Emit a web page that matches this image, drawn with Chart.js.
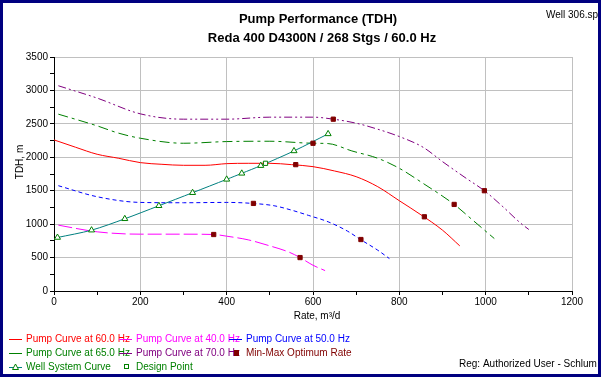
<!DOCTYPE html>
<html>
<head>
<meta charset="utf-8">
<script src="https://cdn.jsdelivr.net/npm/chart.js@4.4.1/dist/chart.umd.min.js"></script>
<style>
  body { margin: 0; background: #fff; }
  canvas { display: block; }
</style>
</head>
<body>
<canvas id="pumpchart" width="601" height="377"></canvas>
<script>
// pump curves (rate m3/d, TDH m)
var rate60 = [0, 50, 100, 150, 200, 250, 300, 350, 400, 450, 500, 550, 600, 650, 700, 750, 800, 850, 900, 940];
var head60 = [2260, 2150, 2045, 1985, 1920, 1895, 1880, 1880, 1905, 1910, 1910, 1890, 1860, 1795, 1710, 1560, 1350, 1140, 910, 675];

var rate40 = [10, 100, 200, 300, 370, 400, 450, 500, 545, 570, 600, 628];
var head40 = [985, 885, 850, 850, 845, 820, 765, 675, 580, 500, 385, 305];

var rate50 = [10, 100, 200, 300, 400, 460, 510, 550, 590, 635, 680, 710, 750, 777];
var head50 = [1575, 1410, 1325, 1320, 1325, 1310, 1275, 1210, 1130, 1035, 895, 770, 610, 485];

var rate65 = [10, 100, 150, 200, 300, 400, 500, 600, 635, 690, 750, 800, 855, 927, 970, 1020];
var head65 = [2645, 2470, 2360, 2285, 2210, 2235, 2240, 2210, 2205, 2095, 1985, 1835, 1610, 1295, 1060, 785];

var rate70 = [10, 100, 200, 300, 400, 500, 600, 647, 700, 750, 800, 855, 900, 955, 997, 1040, 1080, 1100];
var head70 = [3070, 2885, 2650, 2570, 2570, 2600, 2600, 2570, 2510, 2420, 2310, 2150, 1935, 1685, 1500, 1260, 1020, 920];

var rateWell = [8, 87, 164, 243, 321, 400, 435, 479, 556, 635];
var headWell = [800, 910, 1080, 1275, 1470, 1670, 1760, 1875, 2095, 2350];

var rateOpt = [370, 570, 462, 711, 560, 858, 600, 927, 647, 997];
var headOpt = [845, 500, 1310, 770, 1890, 1110, 2210, 1295, 2570, 1500];

var rateDesign = [490];
var headDesign = [1910];

var xTicks = [0, 200, 400, 600, 800, 1000, 1200];
var yTicks = [0, 500, 1000, 1500, 2000, 2500, 3000, 3500];

var legendLabels = [
    "Pump Curve at 60.0 Hz", "Pump Curve at 40.0 Hz", "Pump Curve at 50.0 Hz",
    "Pump Curve at 65.0 Hz", "Pump Curve at 70.0 Hz", "Min-Max Optimum Rate",
    "Well System Curve", "Design Point"
];

function toPoints(xs, ys){
    var pts = [];
    for(var i=0;i<xs.length;i++){
        pts.push({x: xs[i], y: ys[i]});
    }
    return pts;
}

function curve(label, xs, ys, color, dash){
    return {
        label: label,
        data: toPoints(xs, ys),
        showLine: true,
        borderColor: color,
        backgroundColor: color,
        borderWidth: 1,
        borderDash: dash,
        pointRadius: 0,
        cubicInterpolationMode: "monotone",
        legendColor: color
    };
}

var FONT = '"Liberation Sans", Arial, sans-serif';

// legend, titles, frame
var decorations = {
    id: "decorations",
    beforeDraw: function(chart){
        var c = chart.ctx;
        c.save();
        c.fillStyle = "#fff";
        c.fillRect(0, 0, chart.width, chart.height);
        c.restore();
    },
    afterDraw: function(chart){
        var c = chart.ctx;
        var area = chart.chartArea;
        c.save();
        c.fillStyle = "#000";
        c.textAlign = "center";
        c.textBaseline = "middle";
        c.font = "bold 13px " + FONT;
        c.fillText("Pump Performance (TDH)", 318, 19);
        c.fillText("Reda 400 D4300N / 268 Stgs / 60.0 Hz", 322, 38);

        c.font = "10px " + FONT;
        c.fillText("Rate, m\u00b3/d", (area.left + area.right) / 2 + 4, 316);
        c.save();
        c.translate(20, 162);
        c.rotate(-Math.PI / 2);
        c.fillText("TDH, m", 0, 0);
        c.restore();

        c.textAlign = "left";
        c.fillText("Well 306.sp", 546, 15);
        c.fillText("Reg: Authorized User - Schlum", 459, 364);

        // legend: 3 columns
        var ds = chart.data.datasets;
        for(var i=0;i<legendLabels.length;i++){
            var d = null;
            for(var k=0;k<ds.length;k++){
                if(ds[k].label == legendLabels[i]) d = ds[k];
            }
            if(!d) continue;
            var col = i % 3, row = Math.floor(i / 3);
            if(i >= 6){ col = i - 6; row = 2; }
            var tx = 26 + col * 110;
            var ty = 339 + row * 14;
            var sx = tx - 17;
            c.lineWidth = 1;
            if(d.legendSymbol == "rect"){
                c.fillStyle = d.legendColor;
                c.fillRect(sx + 5, ty - 3, 5, 6);
            } else if(d.legendSymbol == "square"){
                c.strokeStyle = d.legendColor;
                c.strokeRect(sx + 5.5, ty - 2.5, 4, 4);
            } else {
                c.strokeStyle = d.legendColor;
                c.beginPath();
                c.moveTo(sx, ty + 0.5);
                c.lineTo(sx + 13, ty + 0.5);
                c.stroke();
                if(d.legendSymbol == "triangle"){
                    c.strokeStyle = "#008000";
                    c.beginPath();
                    c.moveTo(sx + 6.5, ty - 3);
                    c.lineTo(sx + 9.5, ty + 2.5);
                    c.lineTo(sx + 3.5, ty + 2.5);
                    c.closePath();
                    c.fillStyle = "#fff";
                    c.fill();
                    c.stroke();
                }
            }
            c.fillStyle = d.legendText || d.legendColor;
            c.fillText(d.label, tx, ty);
        }

        // window frame
        c.fillStyle = "#000080";
        c.fillRect(0, 0, chart.width, 3);
        c.fillRect(0, chart.height - 3, chart.width, 3);
        c.fillRect(0, 0, 3, chart.height);
        c.fillRect(chart.width - 3, 0, 3, chart.height);
        c.restore();
    }
};

var optimum = {
    label: "Min-Max Optimum Rate",
    data: toPoints(rateOpt, headOpt),
    showLine: false,
    pointStyle: "rect",
    pointRadius: 3,
    pointBackgroundColor: "#800000",
    pointBorderColor: "#800000",
    legendColor: "#800000",
    legendSymbol: "rect"
};
var design = {
    label: "Design Point",
    data: toPoints(rateDesign, headDesign),
    showLine: false,
    pointStyle: "rect",
    pointRadius: 3,
    pointBackgroundColor: "#fff",
    pointBorderColor: "#008000",
    pointBorderWidth: 1,
    legendColor: "#008000",
    legendSymbol: "square"
};
var well = {
    label: "Well System Curve",
    data: toPoints(rateWell, headWell),
    showLine: true,
    borderColor: "#008080",
    borderWidth: 1,
    pointStyle: "triangle",
    pointRadius: 3.5,
    pointBackgroundColor: "#fff",
    pointBorderColor: "#008000",
    pointBorderWidth: 1,
    tension: 0.3,
    legendColor: "#008080",
    legendText: "#008000",
    legendSymbol: "triangle"
};

var ctx_chart = document.getElementById("pumpchart").getContext("2d");
var chart = new Chart(ctx_chart, {
    type: "scatter",
    data: {
        datasets: [
            optimum,
            design,
            well,
            curve("Pump Curve at 60.0 Hz", rate60, head60, "#ff0000", []),
            curve("Pump Curve at 40.0 Hz", rate40, head40, "#ff00ff", [14, 4]),
            curve("Pump Curve at 50.0 Hz", rate50, head50, "#0000ff", [4, 3]),
            curve("Pump Curve at 65.0 Hz", rate65, head65, "#008000", [10, 4, 3, 4]),
            curve("Pump Curve at 70.0 Hz", rate70, head70, "#800080", [8, 3, 2, 3, 2, 3])
        ]
    },
    options: {
        responsive: false,
        animation: false,
        layout: { padding: { left: 0, top: 57, right: 29, bottom: 0 } },
        plugins: {
            legend: { display: false },
            tooltip: { enabled: false }
        },
        scales: {
            x: {
                type: "linear",
                min: 0,
                max: 1200,
                afterFit: function(scale){ scale.height = 86; },
                ticks: {
                    stepSize: 100,
                    autoSkip: false,
                    maxRotation: 0,
                    padding: 1,
                    color: "#000",
                    font: { size: 10, family: FONT },
                    callback: function(v){ return xTicks.indexOf(v) >= 0 ? v : ""; }
                },
                grid: {
                    color: function(c){ return c.tick && xTicks.indexOf(c.tick.value) >= 0 ? "#c0c0c0" : "rgba(0,0,0,0)"; },
                    tickColor: "#000",
                    tickLength: 4
                },
                border: { color: "#000", width: 1 }
            },
            y: {
                type: "linear",
                min: 0,
                max: 3500,
                afterFit: function(scale){ scale.width = 54; },
                ticks: {
                    stepSize: 250,
                    autoSkip: false,
                    padding: 2,
                    color: "#000",
                    font: { size: 10, family: FONT },
                    callback: function(v){ return yTicks.indexOf(v) >= 0 ? v : ""; }
                },
                grid: {
                    color: function(c){ return c.tick && yTicks.indexOf(c.tick.value) >= 0 ? "#c0c0c0" : "rgba(0,0,0,0)"; },
                    tickColor: "#000",
                    tickLength: 4
                },
                border: { color: "#000", width: 1 }
            }
        }
    },
    plugins: [decorations]
});
</script>
</body>
</html>
